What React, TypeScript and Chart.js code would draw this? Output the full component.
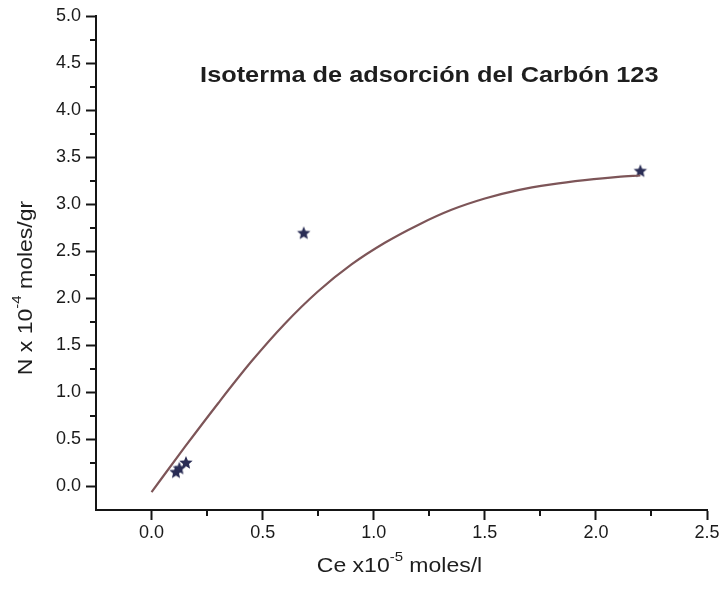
import React, { useEffect, useRef } from "react";
import { Chart, registerables } from "chart.js";

Chart.register(...registerables);

// Experimental points (Ce x10^-5 moles/l, N x10^-4 moles/gr)
const pointsX = [0.11, 0.125, 0.155, 0.685, 2.2];
const pointsY = [0.15, 0.19, 0.25, 2.69, 3.35];

// Fitted isotherm curve
const curveX = [0.0, 0.15, 0.3, 0.45, 0.6, 0.75, 0.9, 1.05, 1.2, 1.35, 1.5, 1.65, 1.8, 1.95, 2.1, 2.2];
const curveY = [-0.06, 0.42, 0.885, 1.33, 1.73, 2.075, 2.36, 2.59, 2.78, 2.94, 3.06, 3.15, 3.21, 3.255, 3.29, 3.305];

const xMajorTicks = [0.0, 0.5, 1.0, 1.5, 2.0, 2.5];
const xMinorTicks = [0.25, 0.75, 1.25, 1.75, 2.25];
const yMajorTicks = [0.0, 0.5, 1.0, 1.5, 2.0, 2.5, 3.0, 3.5, 4.0, 4.5, 5.0];
const yMinorTicks = [0.25, 0.75, 1.25, 1.75, 2.25, 2.75, 3.25, 3.75, 4.25, 4.75];

const chartTitle = "Isoterma de adsorción del Carbón 123";
const xTitleParts = [
  { t: "Ce x10", sup: false },
  { t: "-5", sup: true },
  { t: " moles/l", sup: false },
];
const yTitleParts = [
  { t: "N x 10", sup: false },
  { t: "-4", sup: true },
  { t: " moles/gr", sup: false },
];

const FONT = "'Liberation Sans', Arial, sans-serif";
const STRETCH = 1.15;

function makeStar(r: number, color: string) {
  const c = document.createElement("canvas");
  const s = Math.ceil(2 * r + 2);
  c.width = s;
  c.height = s;
  const g = c.getContext("2d")!;
  g.translate(s / 2, s / 2);
  g.beginPath();
  for (let i = 0; i < 10; i++) {
    const rad = i % 2 === 0 ? r : r * 0.45;
    const a = -Math.PI / 2 + (i * Math.PI) / 5;
    const px = Math.cos(a) * rad;
    const py = Math.sin(a) * rad;
    if (i === 0) g.moveTo(px, py);
    else g.lineTo(px, py);
  }
  g.closePath();
  g.fillStyle = color;
  g.fill();
  return c;
}

function drawRich(
  ctx: CanvasRenderingContext2D,
  parts: { t: string; sup: boolean }[],
  size: number,
  weight: string
) {
  const supSize = Math.round(size * 0.65);
  let total = 0;
  const widths: number[] = [];
  parts.forEach((p) => {
    ctx.font = `${weight} ${p.sup ? supSize : size}px ${FONT}`;
    const w = ctx.measureText(p.t).width;
    widths.push(w);
    total += w;
  });
  let x = -total / 2;
  ctx.textBaseline = "middle";
  ctx.textAlign = "left";
  parts.forEach((p, i) => {
    ctx.font = `${weight} ${p.sup ? supSize : size}px ${FONT}`;
    ctx.fillText(p.t, x, p.sup ? -size * 0.42 : 0);
    x += widths[i];
  });
}

const decorPlugin = {
  id: "decor",
  afterDraw(chart: any) {
    const ctx: CanvasRenderingContext2D = chart.ctx;
    const xs = chart.scales.x;
    const ys = chart.scales.y;
    const area = chart.chartArea;
    ctx.save();
    // minor ticks
    ctx.strokeStyle = "#151515";
    ctx.lineWidth = 2;
    ctx.beginPath();
    xMinorTicks.forEach((v) => {
      const px = Math.round(xs.getPixelForValue(v));
      ctx.moveTo(px, area.bottom);
      ctx.lineTo(px, area.bottom + 6);
    });
    yMinorTicks.forEach((v) => {
      const py = Math.round(ys.getPixelForValue(v));
      ctx.moveTo(area.left, py);
      ctx.lineTo(area.left - 6, py);
    });
    ctx.stroke();

    ctx.fillStyle = "#1e1e1e";
    // Chart title inside the plot
    ctx.save();
    ctx.translate(xs.getPixelForValue(1.25), ys.getPixelForValue(4.36));
    ctx.scale(STRETCH, 1);
    drawRich(ctx, [{ t: chartTitle, sup: false }], 22, "bold");
    ctx.restore();

    // X axis title
    ctx.save();
    ctx.translate((area.left + area.right) / 2 - 2, area.bottom + 56);
    ctx.scale(STRETCH, 1);
    drawRich(ctx, xTitleParts, 20, "normal");
    ctx.restore();

    // Y axis title
    ctx.save();
    ctx.translate(area.left - 70, (area.top + area.bottom) / 2 + 25);
    ctx.rotate(-Math.PI / 2);
    ctx.scale(STRETCH, 1);
    drawRich(ctx, yTitleParts, 20, "normal");
    ctx.restore();

    ctx.restore();
  },
};

export default function App() {
  const ref = useRef<HTMLCanvasElement | null>(null);

  useEffect(() => {
    document.body.style.margin = "0";
    const canvas = ref.current!;
    const star = makeStar(7, "#2a2d55");
    const chart = new Chart(canvas, {
      type: "scatter",
      data: {
        datasets: [
          {
            label: "Ajuste",
            data: curveX.map((x, i) => ({ x, y: curveY[i] })),
            showLine: true,
            borderColor: "#7d5558",
            borderWidth: 2.2,
            pointRadius: 0,
            cubicInterpolationMode: "monotone",
            fill: false,
          } as any,
          {
            label: "Datos",
            data: pointsX.map((x, i) => ({ x, y: pointsY[i] })),
            pointStyle: star as any,
            pointRadius: 7,
            showLine: false,
          },
        ],
      },
      options: {
        responsive: false,
        animation: false,
        layout: { padding: { top: 16, right: 15, left: 0, bottom: 0 } },
        plugins: {
          legend: { display: false },
          tooltip: { enabled: false },
          title: { display: false },
        },
        scales: {
          x: {
            type: "linear",
            min: -0.25,
            max: 2.5,
            afterBuildTicks: (s: any) => {
              s.ticks = xMajorTicks.map((v) => ({ value: v }));
            },
            afterFit: (s: any) => {
              s.height = 80;
            },
            ticks: {
              callback: (v: any) => Number(v).toFixed(1),
              font: { family: FONT, size: 18 },
              color: "#1a1a1a",
              padding: 2,
              maxRotation: 0,
              autoSkip: false,
            },
            grid: {
              display: true,
              drawOnChartArea: false,
              drawTicks: true,
              tickLength: 10,
              tickWidth: 2,
              tickColor: "#151515",
            },
            border: { display: true, color: "#151515", width: 2 },
          },
          y: {
            type: "linear",
            min: -0.25,
            max: 5.0,
            afterBuildTicks: (s: any) => {
              s.ticks = yMajorTicks.map((v) => ({ value: v }));
            },
            afterFit: (s: any) => {
              s.width = 96;
            },
            ticks: {
              callback: (v: any) => Number(v).toFixed(1),
              font: { family: FONT, size: 18 },
              color: "#1a1a1a",
              padding: 5,
              autoSkip: false,
            },
            grid: {
              display: true,
              drawOnChartArea: false,
              drawTicks: true,
              tickLength: 10,
              tickWidth: 2,
              tickColor: "#151515",
            },
            border: { display: true, color: "#151515", width: 2 },
          },
        },
      },
      plugins: [decorPlugin],
    });
    return () => chart.destroy();
  }, []);

  return (
    <div style={{ width: 722, height: 590, background: "#fff" }}>
      <canvas ref={ref} width={722} height={590} style={{ display: "block" }} />
    </div>
  );
}
